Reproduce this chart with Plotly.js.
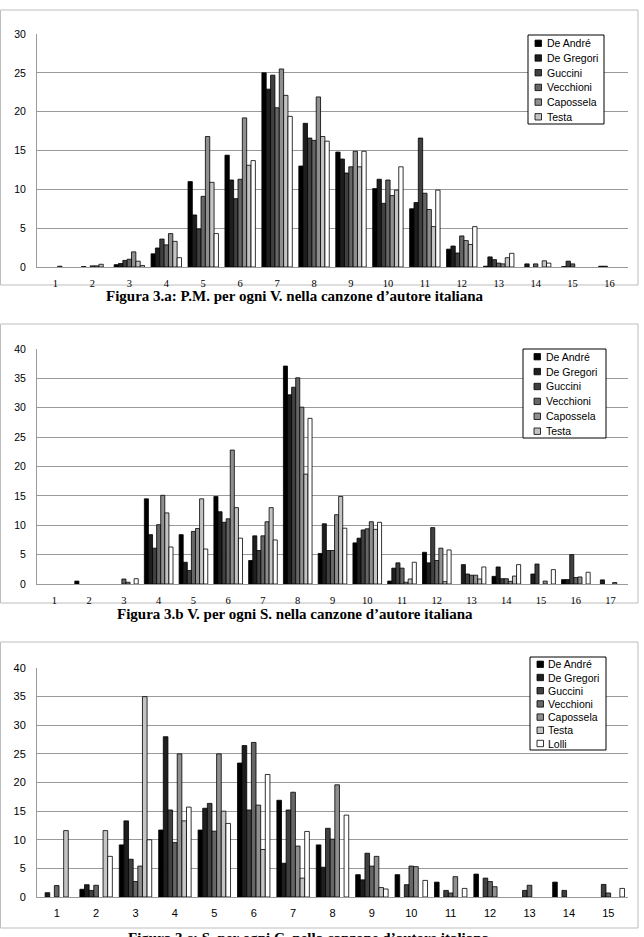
<!DOCTYPE html>
<html><head><meta charset="utf-8">
<script src="https://cdn.plot.ly/plotly-3.0.1.min.js"></script>
<style>html,body{margin:0;padding:0;background:#fff}#chart{width:644px;height:937px}</style>
</head><body><div id="chart"></div>
<script>
// ---------- data ----------
const seriesNames = ['De André','De Gregori','Guccini','Vecchioni','Capossela','Testa','Lolli'];

// Figura 3.a (categories 1..16)
const catsA = ['1','2','3','4','5','6','7','8','9','10','11','12','13','14','15','16'];
const aDeAndre   = [0,   0,    0.3, 1.7, 11.0, 14.4, 25.0, 13.0, 14.8, 10.1, 7.5, 2.3, 0.1, 0,   0,    0];
const aDeGregori = [0,   0.05, 0.45,2.45,6.7,  11.2, 22.9, 18.5, 13.9, 11.3, 8.3, 2.7, 1.3, 0.4, 0.05, 0.1];
const aGuccini   = [0,   0,    0.85,3.6, 4.9,  8.8,  24.7, 16.6, 12.1, 8.2, 16.6, 1.8, 0.95,0,   0.75, 0.1];
const aVecchioni = [0,   0.15, 1.0, 2.85,9.1,  11.3, 20.5, 16.3, 12.9, 11.2, 9.5, 4.0, 0.5, 0.4, 0.4,  0];
const aCapossela = [0.1, 0.15, 1.95,4.3, 16.8, 19.2, 25.5, 21.9, 14.9, 9.2, 7.4, 3.4, 0.4, 0,   0,    0];
const aTesta     = [0,   0.35, 0.75,3.3, 10.9, 13.1, 22.1, 16.8, 12.9, 9.9, 5.2, 2.9, 1.2, 0.8, 0,    0];
const aLolli     = [0,   0,    0.2, 1.2, 4.3,  13.7, 19.4, 16.2, 14.9, 12.9, 9.9, 5.2, 1.76,0.5, 0,    0];

// Figura 3.b (categories 1..17)
const catsB = ['1','2','3','4','5','6','7','8','9','10','11','12','13','14','15','16','17'];
const bDeAndre   = [0, 0.5, 0,    14.5, 8.4,  14.9, 4.0,  37.1, 5.2,  7.0,  0.5,  5.4, 0,    1.3,  0,    0.75, 0];
const bDeGregori = [0, 0,   0,    8.4,  3.7,  12.3, 8.2,  32.2, 10.25,7.8,  2.7,  3.6, 3.3,  2.9,  1.7,  0.75, 0.7];
const bGuccini   = [0, 0,   0,    6.1,  2.3,  10.5, 5.7,  33.5, 5.7,  9.2,  3.6,  9.6, 1.7,  0.9,  3.4,  5.0,  0];
const bVecchioni = [0, 0,   0.85, 10.1, 8.95, 11.1, 8.2,  35.1, 5.7,  9.4,  2.7,  4.0, 1.5,  0.9,  0,    1.1,  0];
const bCapossela = [0, 0,   0.3,  15.1, 9.45, 22.8, 10.6, 30.1, 11.8, 10.6, 0.3,  6.1, 1.5,  0.45, 0.5,  1.2,  0.25];
const bTesta     = [0, 0,   0,    12.1, 14.5, 13.0, 13.0, 18.7, 14.9, 9.3,  0.85, 0.4, 0.85, 1.35, 0,    0,    0];
const bLolli     = [0, 0,   0.9,  6.3,  5.95, 7.8,  7.5,  28.2, 9.5,  10.5, 3.7,  5.8, 2.9,  3.3,  2.45, 2.0,  0];

// Figura 3.c (categories 1..15)
const catsC = ['1','2','3','4','5','6','7','8','9','10','11','12','13','14','15'];
const cDeAndre   = [0,    1.35, 9.1,  11.7, 11.7,  23.4,  16.9,  9.1,  3.9,  3.9,  2.6,  4.0, 0,    2.6,  0];
const cDeGregori = [0.75, 2.15, 13.3, 28.0, 15.5,  26.45, 5.9,   5.2,  3.0,  0,    0,    0,   0,    0,    0];
const cGuccini   = [0,    1.15, 6.6,  15.2, 16.35, 15.2,  15.2,  12.0, 7.65, 2.15, 1.15, 3.3, 1.15, 1.15, 2.2];
const cVecchioni = [2.0,  2.05, 2.7,  9.5,  11.5,  27.0,  18.3,  10.1, 5.4,  5.4,  0.7,  2.7, 2.05, 0,    0.7];
const cCapossela = [0,    0,    5.4,  25.0, 25.0,  16.05, 8.9,   19.6, 7.1,  5.3,  3.55, 1.8, 0,    0,    0];
const cTesta     = [11.6, 11.6, 35.0, 13.3, 15.0,  8.3,   3.3,   0,    1.65, 0,    0,    0,   0,    0,    0];
const cLolli     = [0,    7.1,  10.0, 15.7, 12.85, 21.4,  11.45, 14.3, 1.4,  2.9,  1.5,  0,   0,    0,    1.5];

const captionA = 'Figura 3.a: P.M. per ogni V. nella canzone d’autore italiana';
const captionB = 'Figura 3.b V. per ogni S. nella canzone d’autore italiana';
const captionC = 'Figura 3.c: S. per ogni C. nella canzone d’autore italiana';

// ---------- styling ----------
const W = 644, H = 937;
const PX = v => v / W;
const PY = v => 1 - v / H;
const fills = ['#000000','#1e1e1e','#404040','#666666','#8f8f8f','#c4c4c4','#ffffff'];
const gridCol = '#9a9a9a';

const panels = [
  {cats: catsA, series: [aDeAndre,aDeGregori,aGuccini,aVecchioni,aCapossela,aTesta,aLolli],
   top: 34, bottom: 267, ymax: 30, legendCount: 6, xfont: 'Liberation Serif',
   box: [0.5, 10, 638, 285], leg: [528, 35, 604, 124], row0: 43.3, step: 14.7, sq: 535, tx: 545,
   caption: captionA, capX: 295, capY: 296},
  {cats: catsB, series: [bDeAndre,bDeGregori,bGuccini,bVecchioni,bCapossela,bTesta,bLolli],
   top: 349, bottom: 584, ymax: 40, legendCount: 6, xfont: 'Liberation Serif',
   box: [0.5, 324, 638, 603], leg: [523, 349, 606, 438], row0: 356.7, step: 14.9, sq: 534, tx: 543.5,
   caption: captionB, capX: 295, capY: 614},
  {cats: catsC, series: [cDeAndre,cDeGregori,cGuccini,cVecchioni,cCapossela,cTesta,cLolli],
   top: 668, bottom: 897, ymax: 40, legendCount: 7, xfont: 'Liberation Sans',
   box: [0.5, 642, 638, 928], leg: [530, 657, 606, 750], row0: 664.3, step: 13.2, sq: 537, tx: 546,
   caption: captionC, capX: 309, capY: 938}
];

const traces = [];
const shapes = [];
const annotations = [];
const layout = {
  width: W, height: H,
  margin: {l: 0, r: 0, t: 0, b: 0},
  paper_bgcolor: '#ffffff', plot_bgcolor: '#ffffff',
  barmode: 'group', bargap: 0.176, bargroupgap: 0,
  showlegend: false,
  font: {family: 'Liberation Sans', color: '#000'}
};

panels.forEach((p, k) => {
  const n = k === 0 ? '' : String(k + 1);
  const xa = 'x' + n, ya = 'y' + n;
  p.series.forEach((vals, i) => {
    traces.push({
      type: 'bar', x: p.cats, y: vals.map(v => (v === 0 ? null : v)), name: seriesNames[i],
      xaxis: xa, yaxis: ya,
      marker: {color: fills[i], line: {color: '#000000', width: 0.8}},
      hoverinfo: 'skip'
    });
  });
  layout['xaxis' + n] = {
    domain: [PX(37), PX(628)], anchor: ya, type: 'category',
    range: [-0.5, p.cats.length - 0.5],
    showgrid: false, zeroline: false, showline: true, linecolor: gridCol, linewidth: 1,
    ticks: '', ticklabelstandoff: 6,
    tickfont: {family: p.xfont, size: k === 2 ? 11 : 10.5, color: '#000'}
  };
  layout['yaxis' + n] = {
    domain: [PY(p.bottom), PY(p.top)], anchor: xa,
    range: [0, p.ymax], dtick: 5, tick0: 0,
    showgrid: true, gridcolor: gridCol, gridwidth: 1,
    zeroline: false, showline: true, linecolor: gridCol, linewidth: 1,
    ticks: '', ticklabelstandoff: 8,
    tickfont: {family: 'Liberation Sans', size: k === 2 ? 11 : 10.5, color: '#000'}
  };
  shapes.push({type: 'rect', xref: 'paper', yref: 'paper',
    x0: PX(p.box[0]), x1: PX(p.box[2]), y0: PY(p.box[1]), y1: PY(p.box[3]),
    line: {color: '#bdbdbd', width: 1}, fillcolor: 'rgba(0,0,0,0)', layer: 'below'});
  shapes.push({type: 'rect', xref: 'paper', yref: 'paper',
    x0: PX(p.leg[0]), x1: PX(p.leg[2]), y0: PY(p.leg[1]), y1: PY(p.leg[3]),
    line: {color: '#000000', width: 1}, fillcolor: '#ffffff', layer: 'above'});
  for (let i = 0; i < p.legendCount; i++) {
    const cy = p.row0 + i * p.step;
    shapes.push({type: 'rect', xref: 'paper', yref: 'paper',
      x0: PX(p.sq), x1: PX(p.sq + 6.5), y0: PY(cy - 3.2), y1: PY(cy + 3.2),
      line: {color: '#000000', width: 0.8}, fillcolor: fills[i], layer: 'above'});
    annotations.push({xref: 'paper', yref: 'paper', x: PX(p.tx), y: PY(cy),
      xanchor: 'left', yanchor: 'middle', showarrow: false, text: seriesNames[i],
      font: {family: 'Liberation Sans', size: 10.5, color: '#000'}});
  }
  annotations.push({xref: 'paper', yref: 'paper', x: PX(p.capX), y: PY(p.capY),
    xanchor: 'center', yanchor: 'middle', showarrow: false, text: '<b>' + p.caption + '</b>',
    font: {family: 'Liberation Serif', size: 15, color: '#000'}});
});

layout.shapes = shapes;
layout.annotations = annotations;

Plotly.newPlot('chart', traces, layout, {staticPlot: true, displayModeBar: false});
</script>
</body></html>
